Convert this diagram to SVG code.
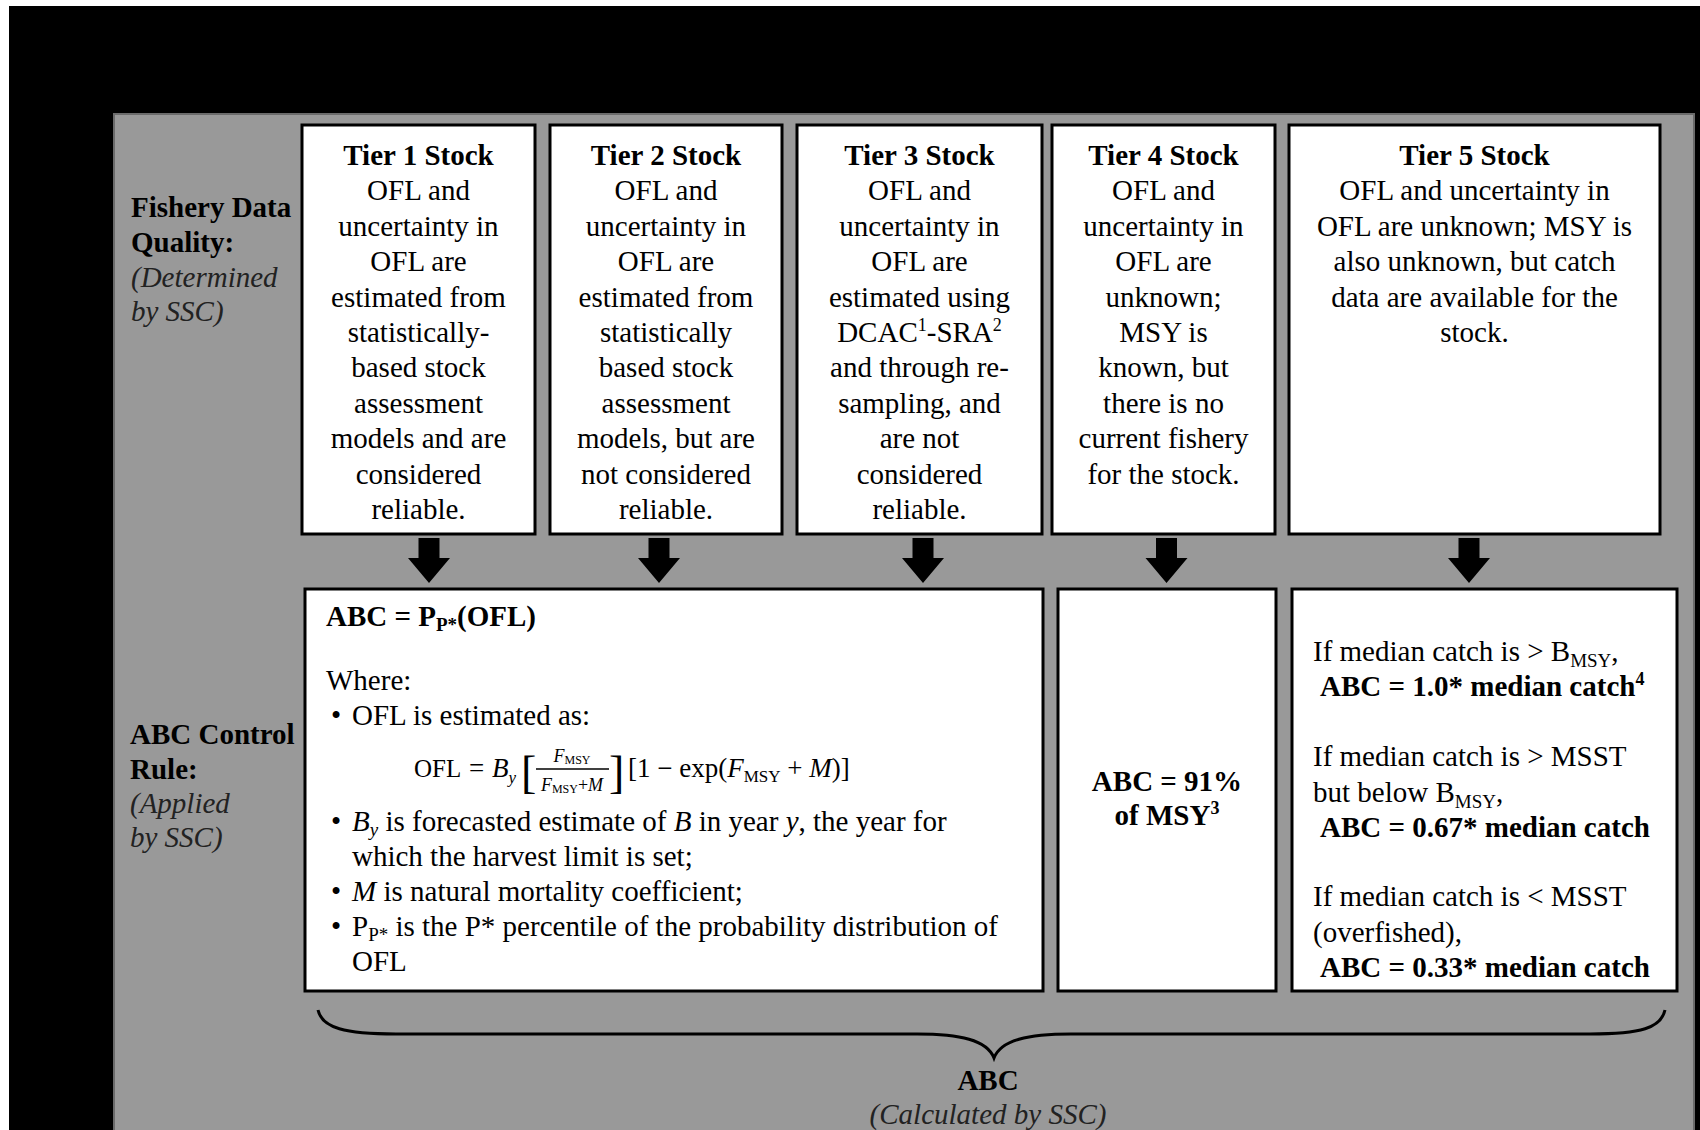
<svg xmlns="http://www.w3.org/2000/svg" width="1700" height="1130" viewBox="0 0 1700 1130">
<style>
.t{font-family:"Liberation Serif","Times New Roman",serif;font-size:29px;fill:#000}
.c{text-anchor:middle}
.b{font-weight:bold}
.i{font-style:italic;fill:#222}
.f{font-family:"Liberation Serif","Times New Roman",serif;font-size:27px;fill:#000}
.fb{font-family:"Liberation Serif","Times New Roman",serif;font-size:46px;fill:#000}
.fs{font-family:"Liberation Serif","Times New Roman",serif;font-size:18px;fill:#000;text-anchor:middle}
.box{fill:#fff;stroke:#000;stroke-width:3}
.arrow{fill:#000}
.brace{fill:none;stroke:#000;stroke-width:3}
</style>
<rect x="0" y="0" width="1700" height="1130" fill="#fff"/>
<rect x="9" y="6" width="1691" height="1124" fill="#000"/>
<rect x="114" y="114" width="1580" height="1020" fill="#999" stroke="#6b6b6b" stroke-width="2"/>

<g id="label-data-quality">
<text class="t b" x="131" y="217">Fishery Data</text>
<text class="t b" x="131" y="252">Quality:</text>
<text class="t i" x="131" y="287">(Determined</text>
<text class="t i" x="131" y="321">by SSC)</text>
</g>
<g id="label-control-rule">
<text class="t b" x="130" y="744">ABC Control</text>
<text class="t b" x="130" y="779">Rule:</text>
<text class="t i" x="130" y="813">(Applied</text>
<text class="t i" x="130" y="847">by SSC)</text>
</g>

<g id="tier1">
<rect class="box" x="302" y="125" width="233" height="409"/>
<text class="t c b" x="418.5" y="165">Tier 1 Stock</text>
<text class="t c" x="418.5" y="200">OFL and</text>
<text class="t c" x="418.5" y="236">uncertainty in</text>
<text class="t c" x="418.5" y="271">OFL are</text>
<text class="t c" x="418.5" y="307">estimated from</text>
<text class="t c" x="418.5" y="342">statistically-</text>
<text class="t c" x="418.5" y="377">based stock</text>
<text class="t c" x="418.5" y="413">assessment</text>
<text class="t c" x="418.5" y="448">models and are</text>
<text class="t c" x="418.5" y="484">considered</text>
<text class="t c" x="418.5" y="519">reliable.</text>
</g>
<g id="tier2">
<rect class="box" x="550" y="125" width="232" height="409"/>
<text class="t c b" x="666" y="165">Tier 2 Stock</text>
<text class="t c" x="666" y="200">OFL and</text>
<text class="t c" x="666" y="236">uncertainty in</text>
<text class="t c" x="666" y="271">OFL are</text>
<text class="t c" x="666" y="307">estimated from</text>
<text class="t c" x="666" y="342">statistically</text>
<text class="t c" x="666" y="377">based stock</text>
<text class="t c" x="666" y="413">assessment</text>
<text class="t c" x="666" y="448">models, but are</text>
<text class="t c" x="666" y="484">not considered</text>
<text class="t c" x="666" y="519">reliable.</text>
</g>
<g id="tier3">
<rect class="box" x="797" y="125" width="245" height="409"/>
<text class="t c b" x="919.5" y="165">Tier 3 Stock</text>
<text class="t c" x="919.5" y="200">OFL and</text>
<text class="t c" x="919.5" y="236">uncertainty in</text>
<text class="t c" x="919.5" y="271">OFL are</text>
<text class="t c" x="919.5" y="307">estimated using</text>
<text class="t c" x="919.5" y="342">DCAC<tspan font-size="18" dy="-11">1</tspan><tspan dy="11">-SRA</tspan><tspan font-size="18" dy="-11">2</tspan></text>
<text class="t c" x="919.5" y="377">and through re-</text>
<text class="t c" x="919.5" y="413">sampling, and</text>
<text class="t c" x="919.5" y="448">are not</text>
<text class="t c" x="919.5" y="484">considered</text>
<text class="t c" x="919.5" y="519">reliable.</text>
</g>
<g id="tier4">
<rect class="box" x="1052" y="125" width="223" height="409"/>
<text class="t c b" x="1163.5" y="165">Tier 4 Stock</text>
<text class="t c" x="1163.5" y="200">OFL and</text>
<text class="t c" x="1163.5" y="236">uncertainty in</text>
<text class="t c" x="1163.5" y="271">OFL are</text>
<text class="t c" x="1163.5" y="307">unknown;</text>
<text class="t c" x="1163.5" y="342">MSY is</text>
<text class="t c" x="1163.5" y="377">known, but</text>
<text class="t c" x="1163.5" y="413">there is no</text>
<text class="t c" x="1163.5" y="448">current fishery</text>
<text class="t c" x="1163.5" y="484">for the stock.</text>
</g>
<g id="tier5">
<rect class="box" x="1289" y="125" width="371" height="409"/>
<text class="t c b" x="1474.5" y="165">Tier 5 Stock</text>
<text class="t c" x="1474.5" y="200">OFL and uncertainty in</text>
<text class="t c" x="1474.5" y="236">OFL are unknown; MSY is</text>
<text class="t c" x="1474.5" y="271">also unknown, but catch</text>
<text class="t c" x="1474.5" y="307">data are available for the</text>
<text class="t c" x="1474.5" y="342">stock.</text>
</g>

<g id="rule-tiers123">
<rect class="box" x="305" y="589" width="738" height="402"/>
<text class="t b" x="326" y="626">ABC = P<tspan font-size="19" dy="5">P*</tspan><tspan dy="-5">(OFL)</tspan></text>
<text class="t" x="326" y="690">Where:</text>
<text class="t" x="331" y="725">•</text>
<text class="t" x="352" y="725">OFL is estimated as:</text>
<text class="f" x="414" y="777" style="font-size:25px">OFL</text>
<text class="f" x="469" y="777">=</text>
<text class="f" x="492" y="777"><tspan font-style="italic">B</tspan><tspan font-style="italic" font-size="17" dy="6">y</tspan></text>
<text class="fb" x="521" y="788">[</text>
<text class="fs" x="572" y="762"><tspan font-style="italic">F</tspan><tspan font-size="12" dy="2">MSY</tspan></text>
<line x1="536" y1="769" x2="609" y2="769" stroke="#000" stroke-width="1.3"/>
<text class="fs" x="572" y="791"><tspan font-style="italic">F</tspan><tspan font-size="12" dy="2">MSY</tspan><tspan dy="-2">+</tspan><tspan font-style="italic">M</tspan></text>
<text class="fb" x="609" y="788">]</text>
<text class="f" x="628" y="777">[1 − exp(<tspan font-style="italic">F</tspan><tspan font-size="17" dy="5">MSY</tspan><tspan dy="-5"> + </tspan><tspan font-style="italic">M</tspan>)]</text>
<text class="t" x="331" y="831">•</text>
<text class="t" x="352" y="831"><tspan font-style="italic">B</tspan><tspan font-style="italic" font-size="19" dy="5">y</tspan><tspan dy="-5"> is forecasted estimate of </tspan><tspan font-style="italic">B</tspan>  in year <tspan font-style="italic">y</tspan>, the year for</text>
<text class="t" x="352" y="866">which the harvest limit is set;</text>
<text class="t" x="331" y="901">•</text>
<text class="t" x="352" y="901"><tspan font-style="italic">M</tspan> is natural mortality coefficient;</text>
<text class="t" x="331" y="936">•</text>
<text class="t" x="352" y="936">P<tspan font-size="19" dy="5">P*</tspan><tspan dy="-5"> is the P* percentile of the probability distribution of</tspan></text>
<text class="t" x="352" y="971">OFL</text>
</g>
<g id="rule-tier4">
<rect class="box" x="1058" y="589" width="218" height="402"/>
<text class="t c b" x="1167" y="791">ABC = 91%</text>
<text class="t c b" x="1167" y="825">of MSY<tspan font-size="18" dy="-11">3</tspan></text>
</g>
<g id="rule-tier5">
<rect class="box" x="1292" y="589" width="385" height="402"/>
<text class="t" x="1313" y="661">If median catch is &gt; B<tspan font-size="19" dy="6">MSY</tspan><tspan dy="-6">,</tspan></text>
<text class="t b" x="1320" y="696">ABC = 1.0* median catch<tspan font-size="18" dy="-11">4</tspan></text>
<text class="t" x="1313" y="766">If median catch is &gt; MSST</text>
<text class="t" x="1313" y="802">but below B<tspan font-size="19" dy="6">MSY</tspan><tspan dy="-6">,</tspan></text>
<text class="t b" x="1320" y="837">ABC = 0.67* median catch</text>
<text class="t" x="1313" y="906">If median catch is &lt; MSST</text>
<text class="t" x="1313" y="942">(overfished),</text>
<text class="t b" x="1320" y="977">ABC = 0.33* median catch</text>
</g>

<g id="connectors">
<polygon class="arrow" points="418.5,538 439.5,538 439.5,558 450,558 429,583 408,558 418.5,558"/>
<polygon class="arrow" points="648.5,538 669.5,538 669.5,558 680,558 659,583 638,558 648.5,558"/>
<polygon class="arrow" points="912.5,538 933.5,538 933.5,558 944,558 923,583 902,558 912.5,558"/>
<polygon class="arrow" points="1156,538 1177,538 1177,558 1187.5,558 1166.5,583 1145.5,558 1156,558"/>
<polygon class="arrow" points="1458.5,538 1479.5,538 1479.5,558 1490,558 1469,583 1448,558 1458.5,558"/>
<path class="brace" d="M318 1010 C322 1028 345 1034 396 1034 L917 1034 C960 1034 987 1040 994 1058 C1001 1040 1028 1034 1071 1034 L1590 1034 C1641 1034 1661 1028 1665 1010"/>
</g>

<g id="abc-total">
<text class="t c b" x="988" y="1090">ABC</text>
<text class="t c i" x="988" y="1124">(Calculated by SSC)</text>
</g>
</svg>
